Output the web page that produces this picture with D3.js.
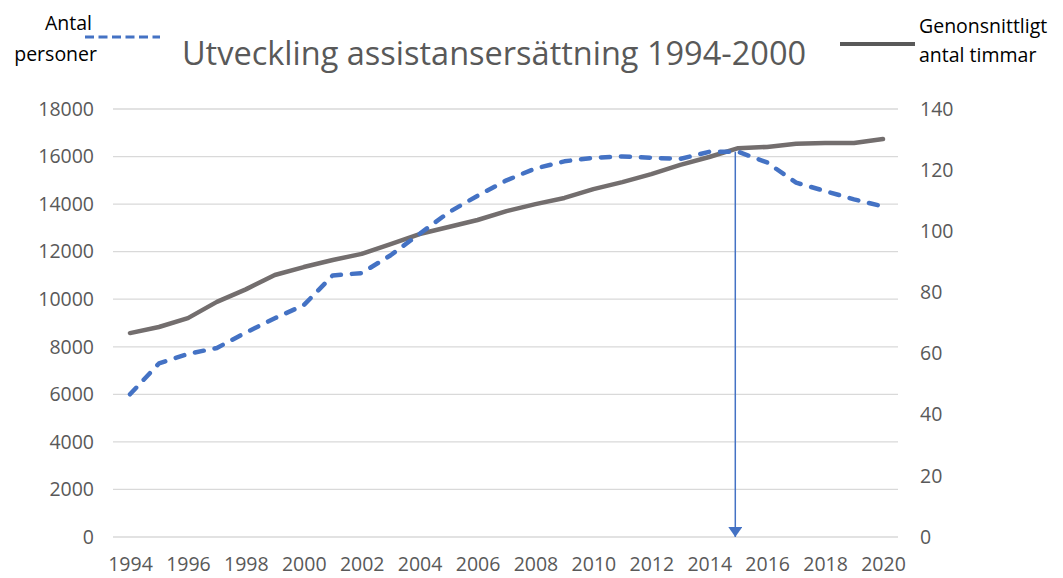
<!DOCTYPE html>
<html>
<head>
<meta charset="utf-8">
<script src="https://cdn.jsdelivr.net/npm/d3@7"></script>
<style>
  body { margin: 0; background: #fff; }
  text { font-family: "Open Sans", sans-serif; }
</style>
</head>
<body>
<svg id="chart"></svg>
<script>
const width = 1063;
const height = 578;

const years = d3.range(1994, 2021);
const persons = [6000, 7300, 7700, 7950, 8600, 9200, 9750, 11000, 11100, 11850, 12750, 13650, 14350, 15000,
    15500, 15800, 15950, 16000, 15950, 15900, 16200, 16200, 15750, 14900, 14550, 14200, 13900];
const hours = [66.7, 68.7, 71.6, 76.9, 81, 85.7, 88.3, 90.6, 92.6, 95.8, 99.1, 101.4, 103.7, 106.6,
    108.9, 110.9, 113.8, 116.1, 118.7, 121.7, 124.3, 127.2, 127.6, 128.6, 128.9, 128.9, 130.2];
const leftTicks = d3.range(0, 18001, 2000);
const rightTicks = d3.range(0, 141, 20);
const xTicks = d3.range(1994, 2021, 2);
const arrowYear = 2014.9;
const arrowValue = 16200;

const svg = d3.select("#chart").attr("width", width).attr("height", height);

const x = d3.scaleLinear().domain([1994, 2020]).range([130, 883]);
const yL = d3.scaleLinear().domain([0, 18000]).range([537, 109]);
const yR = d3.scaleLinear().domain([0, 140]).range([537, 109]);

// gridlines
svg.append("g").selectAll("line").data(leftTicks).enter().append("line")
    .attr("x1", 113).attr("x2", 898)
    .attr("y1", d => yL(d)).attr("y2", d => yL(d))
    .attr("stroke", "#d9d9d9").attr("stroke-width", 1.3);

// axes
const gl = svg.append("g").attr("transform", "translate(94,0)")
    .call(d3.axisLeft(yL).tickValues(leftTicks).tickFormat(d3.format("d")).tickSize(0).tickPadding(0));
const gr = svg.append("g").attr("transform", "translate(920,0)")
    .call(d3.axisRight(yR).tickValues(rightTicks).tickSize(0).tickPadding(0));
const gx = svg.append("g").attr("transform", "translate(0,557)")
    .call(d3.axisBottom(x).tickValues(xTicks).tickFormat(d3.format("d")).tickSize(0).tickPadding(0));
[gl, gr, gx].forEach(g => {
    g.select(".domain").remove();
    g.selectAll("text").attr("fill", "#595959").style("font-size", "19.5px").style("font-family", "Open Sans");
});

// lines
const lineL = d3.line().x((d, i) => x(years[i])).y(d => yL(d));
const lineR = d3.line().x((d, i) => x(years[i])).y(d => yR(d));

svg.append("path").datum(hours).attr("d", lineR)
    .attr("fill", "none").attr("stroke", "#736e6e").attr("stroke-width", 4.5)
    .attr("stroke-linejoin", "round").attr("stroke-linecap", "round");

svg.append("path").datum(persons).attr("d", lineL)
    .attr("fill", "none").attr("stroke", "#4472c4").attr("stroke-width", 4.5)
    .attr("stroke-dasharray", "9,11").attr("stroke-linecap", "round")
    .attr("stroke-linejoin", "round");

// arrow
svg.append("defs").append("marker")
    .attr("id", "arrow").attr("viewBox", "0 0 10 14")
    .attr("refX", 10).attr("refY", 7)
    .attr("markerWidth", 14).attr("markerHeight", 14)
    .attr("markerUnits", "userSpaceOnUse")
    .attr("orient", "auto")
    .append("path").attr("d", "M0,0L10,7L0,14Z").attr("fill", "#4472c4");
svg.append("line")
    .attr("x1", x(arrowYear)).attr("x2", x(arrowYear))
    .attr("y1", yL(arrowValue)).attr("y2", yL(0))
    .attr("stroke", "#4472c4").attr("stroke-width", 1.5)
    .attr("marker-end", "url(#arrow)");

// title
svg.append("text").attr("x", 494).attr("y", 65).attr("text-anchor", "middle")
    .attr("fill", "#595959").style("font-size", "32.5px")
    .text("Utveckling assistansersättning 1994-2000");

// legends
svg.append("text").attr("x", 92).attr("y", 30).attr("text-anchor", "end")
    .attr("fill", "#000").style("font-size", "19.5px").text("Antal");
svg.append("text").attr("x", 97).attr("y", 61).attr("text-anchor", "end")
    .attr("fill", "#000").style("font-size", "19.5px").text("personer");
svg.append("line").attr("x1", 85).attr("x2", 160).attr("y1", 37).attr("y2", 37)
    .attr("stroke", "#4472c4").attr("stroke-width", 3).attr("stroke-dasharray", "9,4.5");

svg.append("line").attr("x1", 840).attr("x2", 915).attr("y1", 44).attr("y2", 44)
    .attr("stroke", "#595959").attr("stroke-width", 4);
svg.append("text").attr("x", 919).attr("y", 33)
    .attr("fill", "#000").style("font-size", "19.5px").text("Genonsnittligt");
svg.append("text").attr("x", 919).attr("y", 62)
    .attr("fill", "#000").style("font-size", "19.5px").text("antal timmar");
</script>
</body>
</html>
